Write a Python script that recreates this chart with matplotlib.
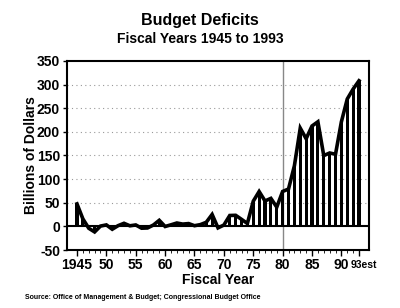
import matplotlib
matplotlib.use("Agg")
import matplotlib.pyplot as plt
import numpy as np

years = np.arange(1945, 1994)
deficits = [
    47.6, 15.9, -4.0, -11.8, 0.6, 3.1, -6.1, 1.5, 6.5, 1.2,
    3.0, -3.9, -3.4, 2.8, 12.8, -0.3, 3.3, 7.1, 4.8, 5.9,
    1.4, 3.7, 8.6, 25.2, -3.2, 2.8, 23.0, 23.4, 14.9, 6.1,
    53.2, 73.7, 53.7, 59.2, 40.7, 73.8, 79.0, 128.0, 207.8, 185.4,
    212.3, 221.2, 149.7, 155.2, 152.5, 221.2, 269.4, 290.4, 308.0,
]
tick_years = [1945, 1950, 1955, 1960, 1965, 1970, 1975, 1980, 1985, 1990]
tick_labels = ["1945", "50", "55", "60", "65", "70", "75", "80", "85", "90"]
y_ticks = [-50, 0, 50, 100, 150, 200, 250, 300, 350]

plt.rcParams["font.family"] = ["Liberation Sans", "DejaVu Sans"]
plt.rcParams["font.weight"] = "bold"

fig = plt.figure(figsize=(4, 3.08), dpi=100)
ax = fig.add_axes([0.1675, 0.1883, 0.755, 0.614])

for y in y_ticks[2:-1]:
    ax.axhline(y, color="#999999", lw=0.8, ls=(0, (1, 3)), zorder=0)
ax.axvline(1980, color="#888888", lw=1.0, zorder=1)

ax.bar(years, deficits, width=0.55, color="black", zorder=2)
ax.plot(years, deficits, color="black", lw=2.6, zorder=3, solid_joinstyle="miter")
ax.axhline(0, color="black", lw=1.5, zorder=4)

ax.set_xlim(1943.3, 1994.7)
ax.set_ylim(-50, 350)
ax.set_yticks(y_ticks)
ax.set_yticklabels([str(v) for v in y_ticks], fontsize=10, fontweight="bold")
ax.set_xticks(tick_years + [1993])
ax.set_xticklabels(tick_labels + [""], fontsize=10, fontweight="bold")
ax.set_xticks(years, minor=True)
ax.text(1991.6, -0.097, "93est", fontsize=7.5, fontweight="bold", ha="left",
        va="baseline", transform=ax.get_xaxis_transform())
ax.tick_params(axis="y", length=3, width=1, pad=2)
ax.tick_params(axis="x", which="major", length=4, width=1, pad=1.5)
ax.tick_params(axis="x", which="minor", length=2, width=0.6)
for s in ax.spines.values():
    s.set_linewidth(1.5)

ax.set_ylabel("Billions of Dollars", fontsize=10, fontweight="bold", labelpad=-1)
ax.set_xlabel("Fiscal Year", fontsize=10, fontweight="bold", labelpad=1)

fig.text(0.5, 0.919, "Budget Deficits", ha="center", fontsize=11.5, fontweight="bold")
fig.text(0.5, 0.86, "Fiscal Years 1945 to 1993", ha="center", fontsize=10, fontweight="bold")
fig.text(0.062, 0.03, "Source: Office of Management & Budget; Congressional Budget Office",
         fontsize=5.0, fontweight="bold")

fig.savefig("out.png", dpi=100)
